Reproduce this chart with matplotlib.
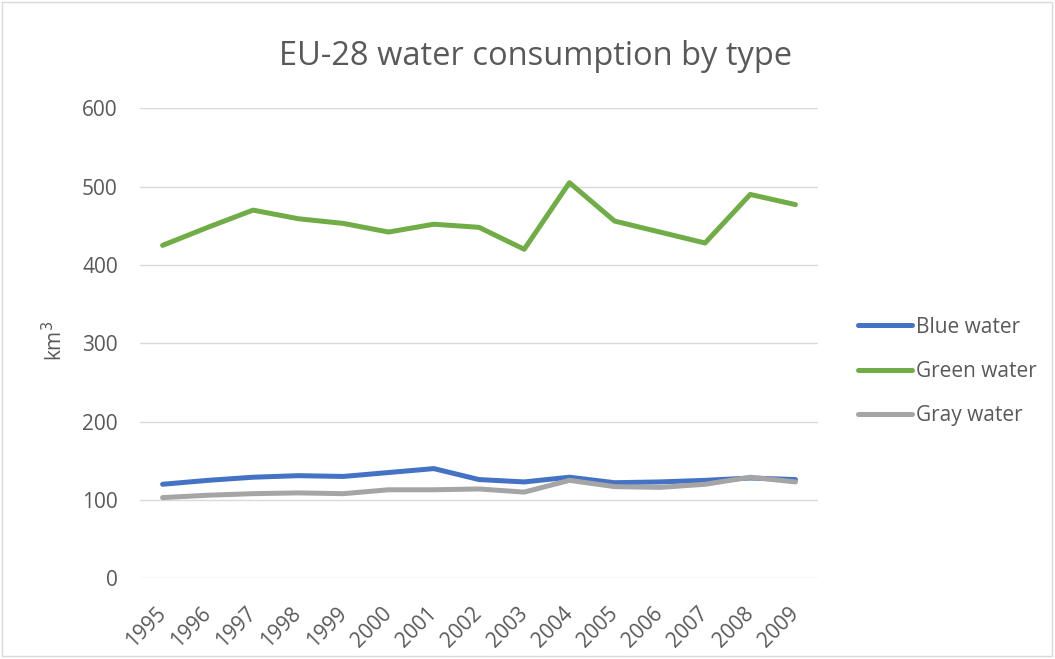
import matplotlib.pyplot as plt
from matplotlib.patches import Rectangle

years = ['1995', '1996', '1997', '1998', '1999', '2000', '2001', '2002',
         '2003', '2004', '2005', '2006', '2007', '2008', '2009']
blue = [120, 125, 129, 131, 130, 135, 140, 126, 123, 129, 122, 123, 125, 128, 126]
green = [425, 448, 470, 459, 453, 442, 452, 448, 420, 505, 456, 442, 428, 490, 477]
gray = [103, 106, 108, 109, 108, 113, 113, 114, 110, 125, 117, 116, 120, 129, 123]

plt.rcParams['font.family'] = ['Open Sans', 'DejaVu Sans']
txt = '#595959'

fig = plt.figure(figsize=(10.55, 6.59), dpi=100)
ax = fig.add_axes([0.1327, 0.1225, 0.6427, 0.7132])

x = range(len(years))
ax.plot(x, blue, color='#4472C4', lw=3.6, label='Blue water', solid_capstyle='round', solid_joinstyle='round')
ax.plot(x, green, color='#70AD47', lw=3.6, label='Green water', solid_capstyle='round', solid_joinstyle='round')
ax.plot(x, gray, color='#A5A5A5', lw=3.6, label='Gray water', solid_capstyle='round', solid_joinstyle='round')

ax.set_xlim(-0.5, len(years) - 0.5)
ax.set_ylim(0, 600)
ax.set_yticks(range(0, 601, 100))
ax.grid(axis='y', color='#D9D9D9', lw=1)
ax.set_axisbelow(True)
for s in ax.spines.values():
    s.set_visible(False)
ax.tick_params(length=0, colors=txt, labelsize=15)
ax.tick_params(axis='y', pad=16)
ax.set_xticks(list(x))
ax.set_xticklabels(years, rotation=45, ha='right', va='center', rotation_mode='anchor')
ax.tick_params(axis='x', pad=23)

ax.set_ylabel('km$^3$', color=txt, fontsize=15)
ax.yaxis.set_label_coords(-0.108, 0.506)
fig.text(0.508, 0.914, 'EU-28 water consumption by type', ha='center', va='center',
         color=txt, fontsize=23.5)

ax.legend(loc='center left', bbox_to_anchor=(1.031, 0.44), frameon=False,
          fontsize=15, labelcolor=txt, handlelength=2.6, handletextpad=0.2,
          labelspacing=1.12)

fig.patches.append(Rectangle((0.002, 0.004), 0.995, 0.993, transform=fig.transFigure,
                             fill=False, edgecolor='#D9D9D9', lw=1))

fig.savefig('out.png', dpi=100)
